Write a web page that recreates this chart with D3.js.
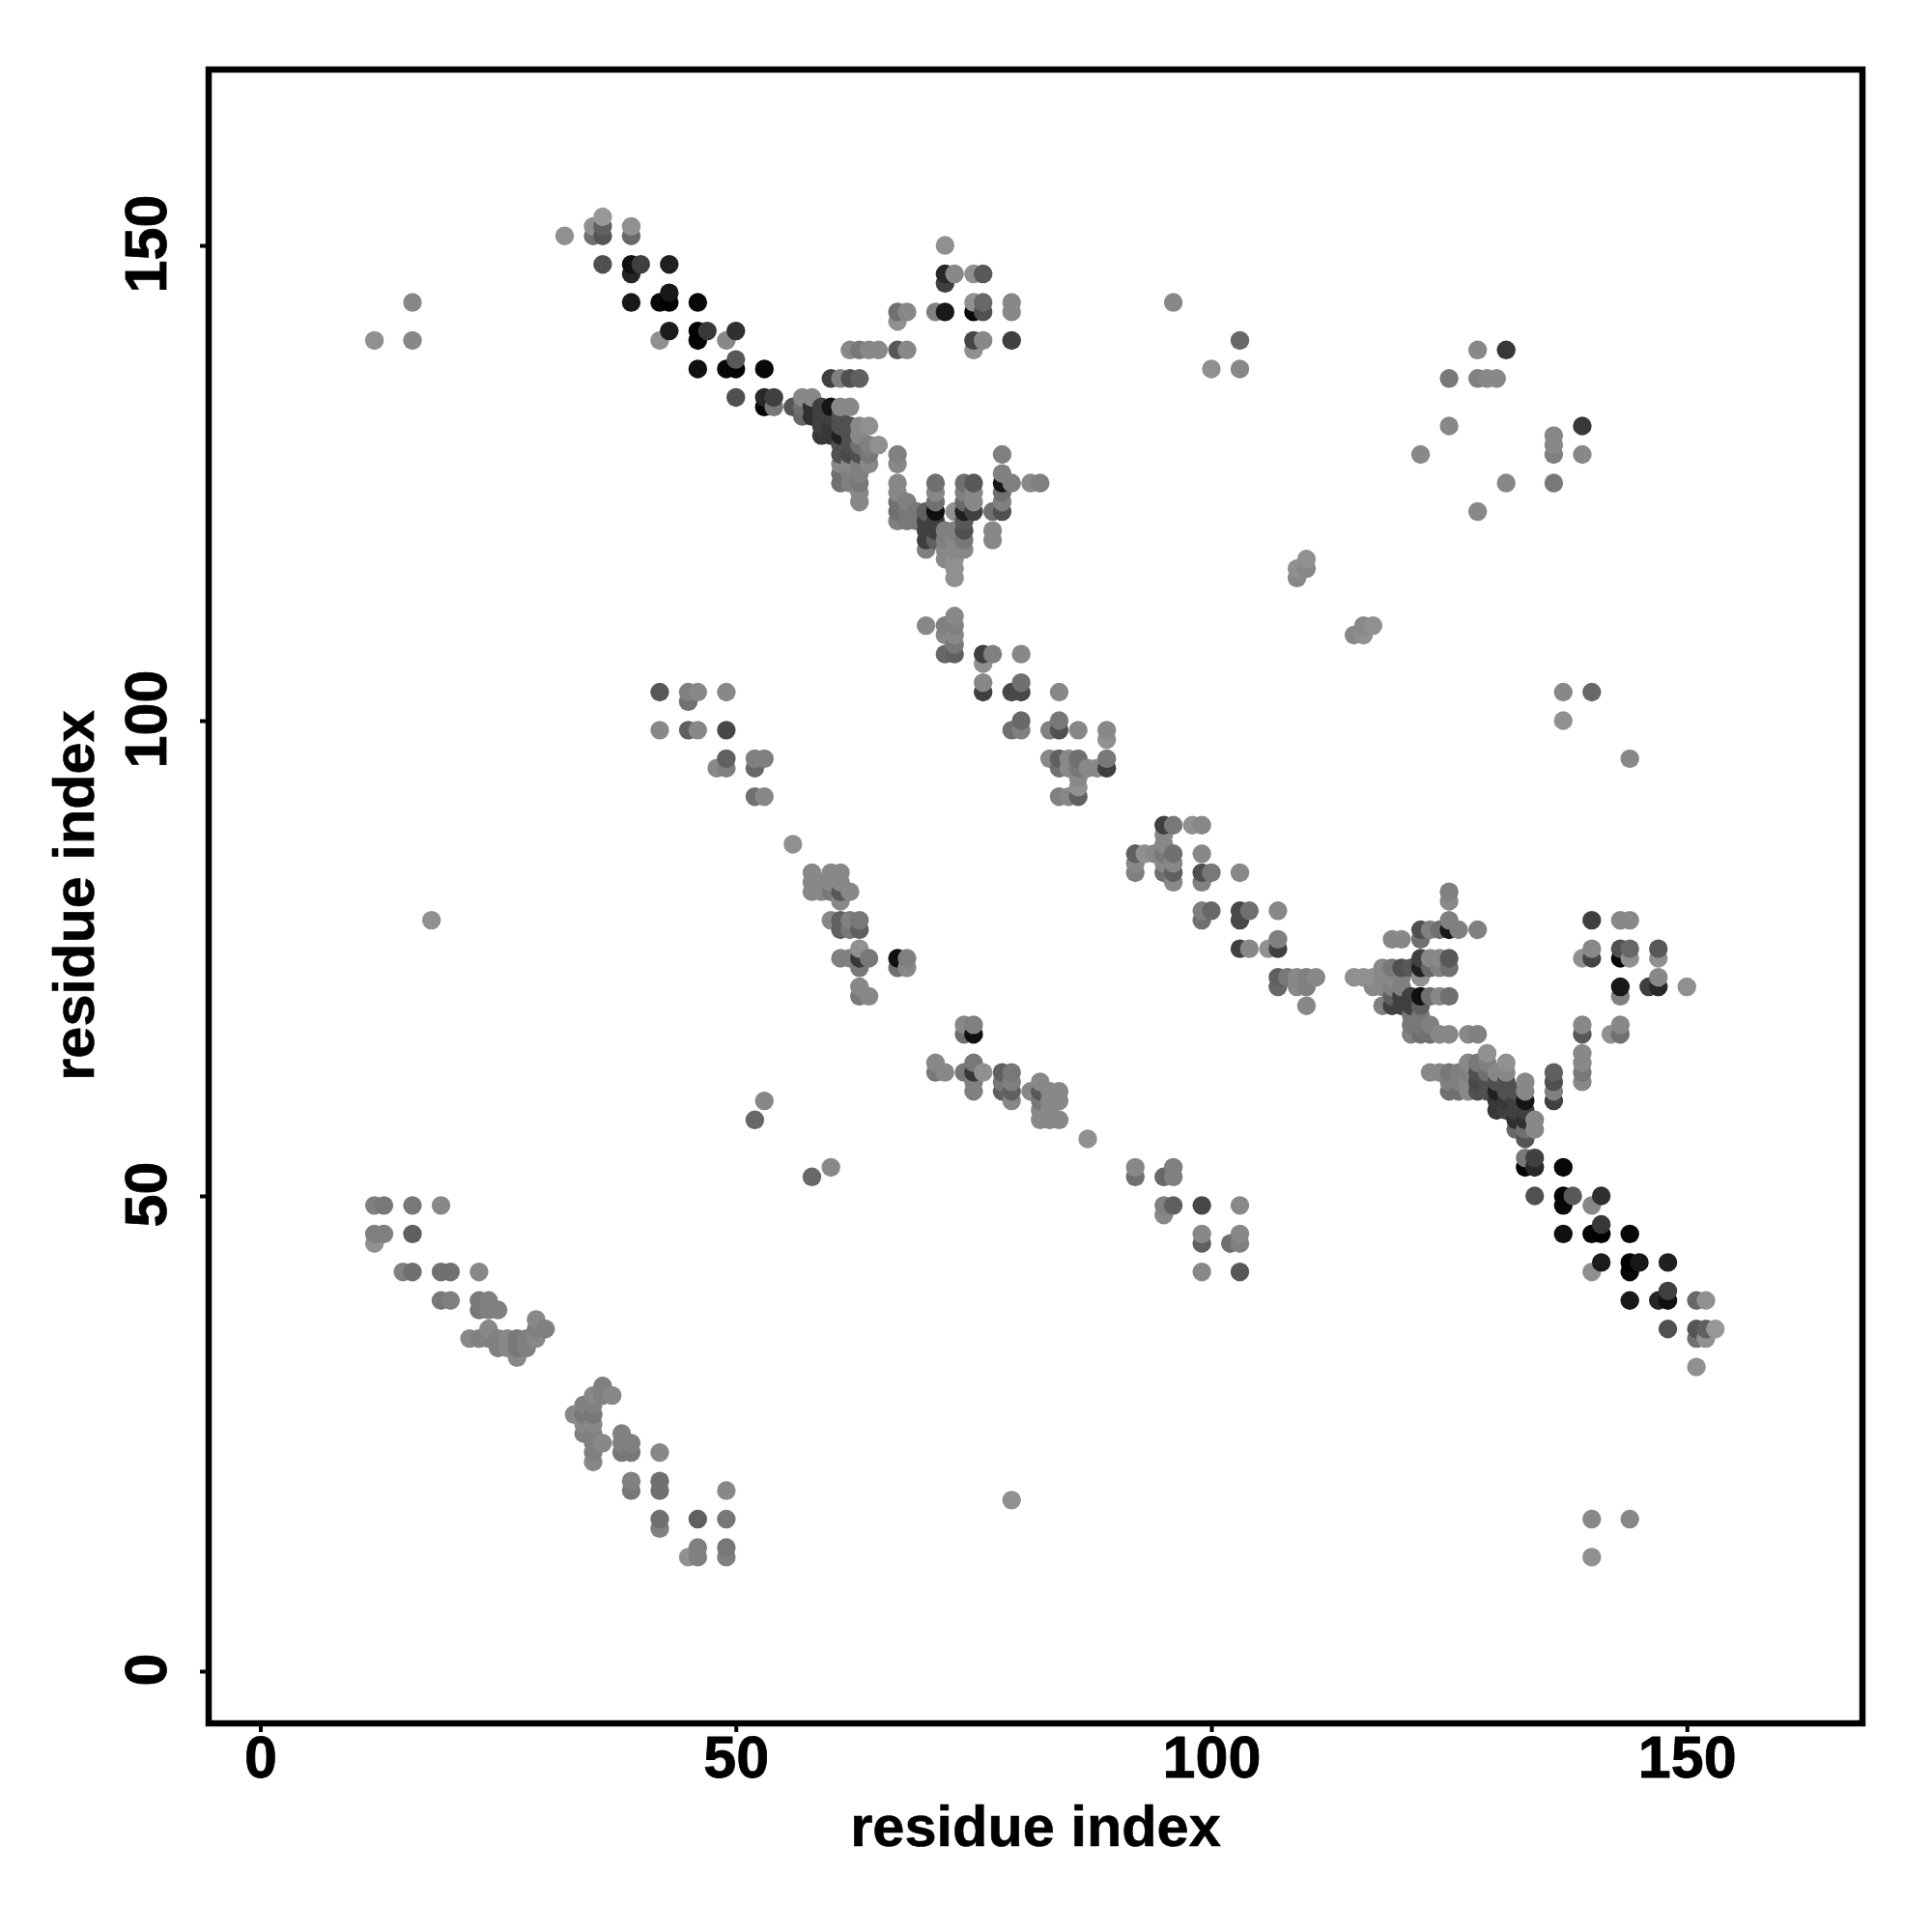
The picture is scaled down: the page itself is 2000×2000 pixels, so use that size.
<!DOCTYPE html>
<html><head><meta charset="utf-8">
<script src="https://cdn.jsdelivr.net/npm/d3@7"></script>
<style>html,body{margin:0;padding:0;background:#fff}svg{display:block}</style>
</head><body><div id="c"></div>
<script>
// Each contact: [residue i, residue j, grey level]; the map is symmetric, so each is also drawn as (j, i).
const xTicks = [0, 50, 100, 150];
const yTicks = [0, 50, 100, 150];
const axisTitle = "residue index";
const strandA = [[12,45,0x90],[12,46,0x80],[12,49,0x80],[13,46,0x80],[13,49,0x78],[15,42,0x80],[16,42,0x70],[16,46,0x60],[16,49,0x78],[19,39,0x78],[19,42,0x70],[19,49,0x88],[20,39,0x80],[20,42,0x70],[22,35,0x88],[23,35,0x80],[23,38,0x78],[23,39,0x78],[23,42,0x88],[24,35,0x80],[24,36,0x88],[24,38,0x80],[24,39,0x80],[25,34,0x80],[25,35,0x80],[25,38,0x80],[26,34,0x88],[26,35,0x88],[27,33,0x88],[27,34,0x78],[27,35,0x78],[28,34,0x80],[28,35,0x80],[29,35,0x88],[29,36,0x80],[29,37,0x88],[30,36,0x80]];
const strandB = [[12,140,0x90],[16,140,0x88],[16,144,0x88],[18,79,0x90],[96,144,0x88],[100,137,0x90],[103,137,0x88],[103,140,0x68],[52,58,0x68],[53,60,0x88],[109,115,0x88],[109,116,0x90],[110,116,0x88],[110,117,0x90]];
const helixA = [[32,151,0x90],[35,151,0x70],[35,152,0x90],[36,148,0x50],[36,151,0x55],[36,152,0x60],[36,153,0x98],[39,144,0x18],[39,147,0x25],[39,148,0x10],[39,151,0x68],[39,152,0x90],[40,148,0x40],[42,140,0x90],[42,144,0x08],[43,141,0x1c],[43,144,0x00],[43,145,0x18],[43,148,0x20],[46,137,0x10],[46,140,0x05],[46,141,0x00],[46,144,0x08],[47,141,0x38],[49,137,0x08],[49,140,0x88],[50,134,0x50],[50,137,0x05],[50,138,0x58],[50,141,0x30],[53,133,0x05],[53,134,0x28],[53,137,0x08],[54,133,0x78],[54,134,0x40]];
const helixB = [[56,133,0x55],[57,132,0x68],[57,133,0x70],[57,134,0x88],[58,132,0x30],[58,133,0x30],[58,134,0x88],[59,130,0x38],[59,131,0x40],[59,132,0x40],[59,133,0x40],[60,130,0x38],[60,131,0x38],[60,132,0x40],[60,133,0x15],[60,136,0x40],[61,125,0x70],[61,126,0x70],[61,127,0x88],[61,128,0x50],[61,129,0x50],[61,130,0x20],[61,131,0x50],[61,132,0x50],[61,133,0x88],[61,136,0x80],[62,125,0x80],[62,126,0x80],[62,127,0x88],[62,128,0x48],[62,129,0x50],[62,130,0x50],[62,131,0x50],[62,133,0x88],[62,136,0x50],[62,139,0x88],[63,123,0x88],[63,124,0x88],[63,125,0x78],[63,126,0x80],[63,127,0x80],[63,128,0x50],[63,129,0x70],[63,130,0x88],[63,131,0x88],[63,136,0x60],[63,139,0x78],[64,127,0x88],[64,128,0x78],[64,129,0x80],[64,131,0x90],[64,139,0x88],[65,129,0x90],[65,139,0x88],[67,121,0x80],[67,122,0x70],[67,123,0x70],[67,124,0x88],[67,125,0x88],[67,127,0x88],[67,128,0x80],[67,139,0x58],[67,142,0x90],[67,143,0x70],[68,121,0x78],[68,122,0x78],[68,123,0x80],[68,139,0x88],[68,143,0x88],[69,121,0x78],[69,122,0x78]];
const helixC = [[70,110,0x88],[70,118,0x80],[70,119,0x40],[70,120,0x40],[70,121,0x40],[70,122,0x60],[71,119,0x60],[71,120,0x40],[71,121,0x40],[71,122,0x10],[71,123,0x70],[71,124,0x88],[71,125,0x70],[71,143,0x80],[72,107,0x68],[72,109,0x88],[72,110,0x80],[72,117,0x88],[72,118,0x88],[72,119,0x80],[72,120,0x80],[72,143,0x18],[72,146,0x40],[72,147,0x28],[72,150,0x90],[73,107,0x60],[73,108,0x78],[73,109,0x88],[73,110,0x80],[73,111,0x88],[73,115,0x90],[73,116,0x90],[73,117,0x90],[73,118,0x88],[73,119,0x88],[73,120,0x80],[73,122,0x90],[73,147,0x88],[74,118,0x88],[74,119,0x78],[74,120,0x50],[74,121,0x58],[74,122,0x20],[74,123,0x68],[74,124,0x80],[74,125,0x70],[75,122,0x40],[75,123,0x88],[75,124,0x88],[75,125,0x58],[75,139,0x90],[75,140,0x45],[75,143,0x08],[75,144,0x90],[75,147,0x90],[76,103,0x40],[76,104,0x88],[76,106,0x90],[76,107,0x40],[76,140,0x88],[76,143,0x50],[76,144,0x68],[76,147,0x58],[77,107,0x80],[77,119,0x88],[77,120,0x88],[77,122,0x70],[78,122,0x50],[78,123,0x80],[78,124,0x70],[78,125,0x18],[78,126,0x80],[78,128,0x80],[79,103,0x48],[79,125,0x80],[79,140,0x40],[79,143,0x88],[79,144,0x88],[80,103,0x48],[80,104,0x70],[80,107,0x88],[81,125,0x88],[82,125,0x80]];
const sheetA = [[42,99,0x88],[42,103,0x58],[45,99,0x60],[45,102,0x70],[45,103,0x80],[46,99,0x88],[46,103,0x88],[48,95,0x88],[49,95,0x80],[49,96,0x60],[49,99,0x48],[49,103,0x88],[52,92,0x70],[52,95,0x68],[52,96,0x80],[53,92,0x88],[53,96,0x80],[56,87,0x90],[58,82,0x88],[58,83,0x88],[58,84,0x88],[59,82,0x88],[59,83,0x88],[60,79,0x88],[60,82,0x78],[60,83,0x88],[60,84,0x88],[61,75,0x80],[61,78,0x60],[61,79,0x60],[61,81,0x88],[61,82,0x58],[61,83,0x88],[61,84,0x88],[62,75,0x80],[62,78,0x78],[62,79,0x80],[62,82,0x88],[63,71,0x78],[63,72,0x88],[63,74,0x78],[63,75,0x38],[63,76,0x90],[63,78,0x60],[63,79,0x78],[64,71,0x88],[64,75,0x78],[67,74,0x70],[67,75,0x10],[68,74,0x88],[68,75,0x80]];
const sheetB = [[79,99,0x70],[80,99,0x80],[80,100,0x68],[83,96,0x88],[83,99,0x80],[84,92,0x80],[84,95,0x70],[84,96,0x60],[84,99,0x50],[84,100,0x78],[84,103,0x88],[85,92,0x88],[85,95,0x88],[85,96,0x88],[86,92,0x60],[86,93,0x90],[86,94,0x88],[86,95,0x78],[86,96,0x70],[86,99,0x88],[87,95,0x88],[88,95,0x88],[89,95,0x40],[89,96,0x78],[89,98,0x90],[89,99,0x88],[122,128,0x88],[125,131,0x88],[125,136,0x78],[128,136,0x80],[128,139,0x88],[129,136,0x88],[130,136,0x88],[131,139,0x38]];
const contacts = [...strandA, ...strandB, ...helixA, ...helixB, ...helixC, ...sheetA, ...sheetB];

const W = 2000, H = 2000;
const left = 216, right = 1928, top_ = 72, bottom = 1784;
const x = d3.scaleLinear().domain([-5.43, 168.46]).range([left, right]);
const y = d3.scaleLinear().domain([-5.49, 168.5]).range([bottom, top_]);

const svg = d3.select("#c").append("svg").attr("width", W).attr("height", H)
  .style("font-family", "'Liberation Sans', Arial, sans-serif").style("font-weight", "bold");

const points = contacts.flatMap(([i, j, g]) => [{a: i, b: j, g}, {a: j, b: i, g}])
  .sort((p, q) => d3.ascending(p.a, q.a) || d3.ascending(p.b, q.b));

svg.append("g").selectAll("circle").data(points).join("circle")
  .attr("cx", d => x(d.a)).attr("cy", d => y(d.b)).attr("r", 9.7)
  .attr("fill", d => d3.rgb(d.g, d.g, d.g));

svg.append("rect").attr("x", left).attr("y", top_).attr("width", right - left).attr("height", bottom - top_)
  .attr("fill", "none").attr("stroke", "#000").attr("stroke-width", 6.5);

const xAxis = svg.append("g").attr("transform", `translate(0,${bottom})`)
  .call(d3.axisBottom(x).tickValues(xTicks).tickSize(9).tickSizeOuter(0));
xAxis.select(".domain").remove();
xAxis.selectAll("line").attr("stroke-width", 4);
xAxis.selectAll("text").attr("y", 0).attr("dy", 0).attr("transform", "translate(0,56)")
  .attr("font-size", 61).attr("font-family", "'Liberation Sans'").attr("font-weight", "bold").attr("fill", "#000")
  .attr("stroke", "#000").attr("stroke-width", 0.8);

const yAxis = svg.append("g").attr("transform", `translate(${left},0)`)
  .call(d3.axisLeft(y).tickValues(yTicks).tickSize(9).tickSizeOuter(0));
yAxis.select(".domain").remove();
yAxis.selectAll("line").attr("stroke-width", 4);
yAxis.selectAll("text").attr("x", 0).attr("dy", 0).attr("text-anchor", "middle")
  .attr("transform", "translate(-44,-2) rotate(-90)")
  .attr("font-size", 61).attr("font-family", "'Liberation Sans'").attr("font-weight", "bold").attr("fill", "#000")
  .attr("stroke", "#000").attr("stroke-width", 0.8);

svg.append("text").attr("x", 1072).attr("y", 1911).attr("text-anchor", "middle")
  .attr("font-size", 59.5).attr("stroke", "#000").attr("stroke-width", 0.6).text(axisTitle);
svg.append("text").attr("transform", "translate(97,927) rotate(-90)").attr("text-anchor", "middle")
  .attr("font-size", 59.5).attr("stroke", "#000").attr("stroke-width", 0.6).text(axisTitle);
</script></body></html>
